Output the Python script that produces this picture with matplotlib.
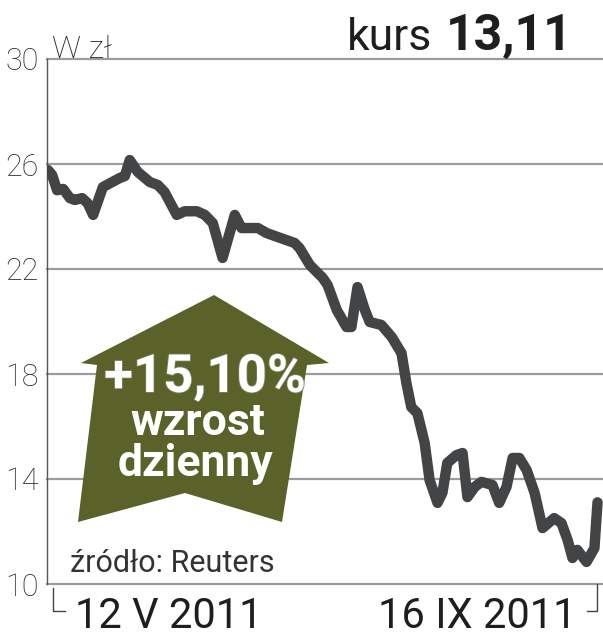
"""Kurs akcji: wykres liniowy z zieloną strzałką wzrostu dziennego."""
import matplotlib

matplotlib.use("Agg")
import matplotlib.pyplot as plt
from matplotlib import patheffects
from matplotlib.lines import Line2D
from matplotlib.patches import Polygon

W, H = 603, 640

# sesje od 12 V 2011 (0) do 16 IX 2011 (90), kurs w zł
days = [0, 0.7, 1.5, 2.5, 3.6, 4.4, 5.6, 6.5, 7.4, 9.0, 10.5, 11.8, 12.6, 13.4,
        14.7, 16.7, 18.0, 19.1, 21.1, 22.4, 24.4, 25.7, 27.0, 28.6, 30.6, 31.7,
        34.4, 35.8, 40.4, 41.2, 42.9, 45.0, 45.8, 47.3, 48.9, 49.7, 50.7, 51.9,
        52.7, 54.6, 56.3, 57.6, 57.9, 58.7, 59.5, 60.5, 61.7, 62.5, 63.8, 64.6,
        65.4, 66.9, 67.9, 68.7, 69.9, 71.0, 72.8, 73.9, 75.1, 76.1, 77.2, 78.4,
        79.7, 81.0, 82.9, 84.1, 85.1, 85.9, 86.7, 88.2, 89.5, 90.0]
prices = [25.77, 25.58, 25.0, 25.05, 24.7, 24.63, 24.7, 24.51, 24.06, 25.12,
          25.31, 25.47, 25.54, 26.15, 25.7, 25.31, 25.2, 24.93, 24.06, 24.2,
          24.2, 24.06, 23.75, 22.42, 24.06, 23.56, 23.56, 23.37, 22.99, 22.8,
          22.15, 21.66, 21.39, 20.44, 19.79, 19.79, 21.31, 20.44, 19.98, 19.87,
          19.41, 18.91, 18.8, 17.66, 16.74, 16.51, 15.37, 13.96, 13.09, 13.47,
          14.61, 14.91, 14.99, 13.31, 13.7, 13.89, 13.77, 13.09, 13.7, 14.8,
          14.8, 14.34, 13.47, 12.13, 12.51, 12.32, 11.68, 10.99, 11.3, 10.84,
          11.37, 13.11]
yticks = [10, 14, 18, 22, 26, 30]
date_labels = ["12 V 2011", "16 IX 2011"]
last_price = "13,11"
daily_change = "+15,10%"

FONT = ["Roboto", "DejaVu Sans"]
LINE = "#434445"
GRID = "#9c9c9c"
OLIVE = "#5a6229"
TXT = "#1e1e1e"


def fx(px):
    return px / W


def fy(py):
    return 1 - py / H


fig = plt.figure(figsize=(W / 100, H / 100), dpi=100, facecolor="white")
ax = fig.add_axes([fx(47), fy(584), fx(603 - 47), (584 - 59) / H])
ax.set_xlim(-0.15, 90.9)
ax.set_ylim(10, 30)
for y in yticks:
    ax.axhline(y, color=GRID, lw=1.6, clip_on=False, zorder=1)
ax.plot(days, prices, color=LINE, lw=7.5, solid_joinstyle="round",
        solid_capstyle="round", zorder=3)

ax.set_yticks(yticks)
ax.set_yticklabels([str(v) for v in yticks], family=FONT, fontsize=22,
                   fontweight="light", color="#2a2a2a")
ax.tick_params(axis="y", length=0, pad=6)
ax.set_xticks([])
for side in ("top", "right", "bottom"):
    ax.spines[side].set_visible(False)
ax.spines["left"].set_color("#555555")
ax.spines["left"].set_linewidth(1.0)

# brackets under the time axis
fig.add_artist(Line2D([fx(53), fx(53), fx(65)], [fy(588), fy(611), fy(611)],
                      color="#444444", lw=1.0))
fig.add_artist(Line2D([fx(587), fx(597), fx(597)], [fy(611), fy(611), fy(584)],
                      color="#444444", lw=1.0))

fig.text(fx(75), fy(628), date_labels[0], family=FONT, fontsize=30,
         color=TXT, ha="left", va="baseline")
fig.text(fx(576), fy(628), date_labels[1], family=FONT, fontsize=30,
         color=TXT, ha="right", va="baseline")

fig.text(fx(52), fy(58), "W zł", family=FONT, fontsize=23, fontweight="light",
         color=TXT, ha="left", va="baseline")
fig.text(fx(432), fy(50), "kurs", family=FONT, fontsize=32, color=TXT,
         ha="right", va="baseline")
fig.text(fx(573), fy(50), last_price, family=FONT, fontsize=36,
         fontweight="bold", color=TXT, ha="right", va="baseline")

# arrow badge
arrow_px = [(214, 295), (329, 363), (307, 365), (282, 522), (185, 493),
            (78, 522), (97, 365), (81, 363)]
fig.add_artist(Polygon([(fx(x), fy(y)) for x, y in arrow_px], closed=True,
                       facecolor=OLIVE, edgecolor="none", zorder=5))
stroke = [patheffects.withStroke(linewidth=1.2, foreground="#7d8060")]
fig.text(fx(205), fy(392), daily_change, family=FONT, fontsize=38,
         fontweight="bold", color="white", ha="center", va="baseline",
         zorder=6, path_effects=stroke)
fig.text(fx(198), fy(435), "wzrost", family=FONT, fontsize=32,
         fontweight="bold", color="white", ha="center", va="baseline", zorder=6)
fig.text(fx(195), fy(476), "dzienny", family=FONT, fontsize=32,
         fontweight="bold", color="white", ha="center", va="baseline", zorder=6)

fig.text(fx(70), fy(572), "źródło: Reuters", family=FONT, fontsize=22,
         color="#333333", ha="left", va="baseline")

fig.savefig("out.png", dpi=100, facecolor="white")
